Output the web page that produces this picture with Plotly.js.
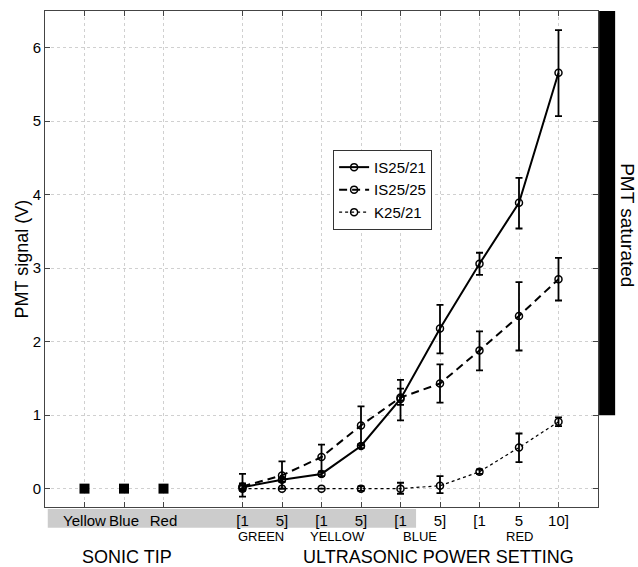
<!DOCTYPE html>
<html>
<head>
<meta charset="utf-8">
<script src="https://cdn.plot.ly/plotly-3.0.1.min.js"></script>
<style>html,body{margin:0;padding:0;background:#fff}#chart{width:638px;height:567px}</style>
</head>
<body>
<div id="chart"></div>
<script>
// Sonic tip settings
const sonicX = [1, 2, 3];
const sonicY = [0, 0, 0];
// Ultrasonic power settings
const ultraX = [5, 6, 7, 8, 9, 10, 11, 12, 13];
const tickVals = [1, 2, 3, 5, 6, 7, 8, 9, 10, 11, 12, 13];
const tickText = ["Yellow", "Blue", "Red", "[1", "5]", "[1", "5]", "[1", "5]", "[1", "5", "10]"];

const is2521 = [0.02, 0.12, 0.20, 0.58, 1.22, 2.18, 3.06, 3.89, 5.66];
const is2521Up = [0.05, 0.03, 0.03, 0.03, 0.26, 0.32, 0.15, 0.34, 0.58];
const is2521Down = [0.05, 0.03, 0.03, 0.03, 0.29, 0.34, 0.15, 0.35, 0.59];

const is2525 = [0.03, 0.18, 0.43, 0.86, 1.24, 1.43, 1.88, 2.35, 2.85];
const is2525Up = [0.17, 0.19, 0.17, 0.26, 0.12, 0.26, 0.26, 0.46, 0.29];
const is2525Down = [0.14, 0.18, 0.20, 0.27, 0.10, 0.26, 0.27, 0.47, 0.29];

const k2521 = [0.0, 0.0, 0.0, 0.0, 0.0, 0.04, 0.23, 0.56, 0.91];
const k2521Up = [0, 0, 0, 0.03, 0.08, 0.13, 0.03, 0.19, 0.06];
const k2521Down = [0, 0, 0, 0.03, 0.07, 0.10, 0.03, 0.20, 0.06];

const groupLabels = ["GREEN", "YELLOW", "BLUE", "RED"];
const groupCenters = [5.46, 7.4, 9.49, 12.0];

const FONT = "'Liberation Sans', Arial, Helvetica, sans-serif";

function errs(up, down) {
  return {type: 'data', symmetric: false, array: up, arrayminus: down,
          color: '#000', thickness: 1.8, width: 3.5, visible: true};
}
const mk = {symbol: 'circle-open', size: 7, color: '#000', line: {width: 1.5, color: '#000'}};

const traces = [
  {x: ultraX, y: k2521, name: 'K25/21', mode: 'lines+markers',
   line: {color: '#000', width: 1.2, dash: 'dot'}, marker: mk, error_y: errs(k2521Up, k2521Down)},
  {x: ultraX, y: is2525, name: 'IS25/25', mode: 'lines+markers',
   line: {color: '#000', width: 2, dash: '8px,5px'}, marker: mk, error_y: errs(is2525Up, is2525Down)},
  {x: ultraX, y: is2521, name: 'IS25/21', mode: 'lines+markers',
   line: {color: '#000', width: 2}, marker: mk, error_y: errs(is2521Up, is2521Down)},
  {x: sonicX, y: sonicY, name: 'Sonic tip', mode: 'markers', showlegend: false,
   marker: {symbol: 'square', size: 10, color: '#000'}}
];

const annotations = [];
for (let i = 0; i < groupLabels.length; i++) {
  annotations.push({x: groupCenters[i], xref: 'x', y: -0.0585, yref: 'paper',
    text: groupLabels[i], showarrow: false, xanchor: 'center', yanchor: 'middle',
    font: {family: FONT, size: 13, color: '#000'}});
}
annotations.push({x: 2.08, xref: 'x', y: -0.100, yref: 'paper', text: 'SONIC TIP', showarrow: false,
  xanchor: 'center', yanchor: 'middle', font: {family: FONT, size: 18, color: '#000'}});
annotations.push({x: 9.97, xref: 'x', y: -0.100, yref: 'paper', text: 'ULTRASONIC POWER SETTING', showarrow: false,
  xanchor: 'center', yanchor: 'middle', font: {family: FONT, size: 18, color: '#000'}});
annotations.push({x: -0.0407, xref: 'paper', y: 0.5, yref: 'paper', text: 'PMT signal (V)', showarrow: false,
  textangle: -90, xanchor: 'center', yanchor: 'middle', font: {family: FONT, size: 18, color: '#000'}});
annotations.push({x: 1.054, xref: 'paper', y: 0.5685, yref: 'paper', text: 'PMT saturated', showarrow: false,
  textangle: 90, xanchor: 'center', yanchor: 'middle', font: {family: FONT, size: 19, color: '#000'}});

const layout = {
  width: 638, height: 567,
  margin: {l: 45, r: 40, t: 11, b: 60},
  paper_bgcolor: '#fff', plot_bgcolor: '#fff',
  font: {family: FONT, size: 15, color: '#000'},
  showlegend: true,
  legend: {x: 0.521, y: 0.72, xanchor: 'left', yanchor: 'top', bgcolor: '#fff',
           bordercolor: '#333', borderwidth: 1, font: {family: FONT, size: 15, color: '#000'},
           traceorder: 'reversed', tracegroupgap: 0, itemwidth: 30},
  xaxis: {range: [0, 14], tickmode: 'array', tickvals: tickVals, ticktext: tickText, tickangle: 0,
          ticks: 'inside', ticklen: 5, tickcolor: '#444', showline: true, linecolor: '#444', linewidth: 1,
          mirror: 'ticks', showgrid: true, gridcolor: '#d0d0d0', griddash: 'dot', gridwidth: 1,
          zeroline: false, tickfont: {family: FONT, size: 15, color: '#000'}},
  yaxis: {range: [-0.25, 6.5], tickmode: 'linear', tick0: 0, dtick: 1,
          ticks: 'inside', ticklen: 5, tickcolor: '#444', showline: true, linecolor: '#444', linewidth: 1,
          mirror: 'ticks', showgrid: true, gridcolor: '#d0d0d0', griddash: 'dot', gridwidth: 1,
          zeroline: false, tickfont: {family: FONT, size: 15, color: '#000'}},
  shapes: [
    {type: 'rect', xref: 'paper', yref: 'paper', x0: 0.005, x1: 0.671, y0: -0.042, y1: -0.004,
     fillcolor: '#cccccc', line: {width: 0}, layer: 'below'},
    {type: 'rect', xref: 'paper', yref: 'y', x0: 1.002, x1: 1.031, y0: 1.0, y1: 6.5,
     fillcolor: '#000', line: {width: 0}}
  ],
  annotations: annotations
};

Plotly.newPlot('chart', traces, layout, {displayModeBar: false, staticPlot: true});
</script>
</body>
</html>
